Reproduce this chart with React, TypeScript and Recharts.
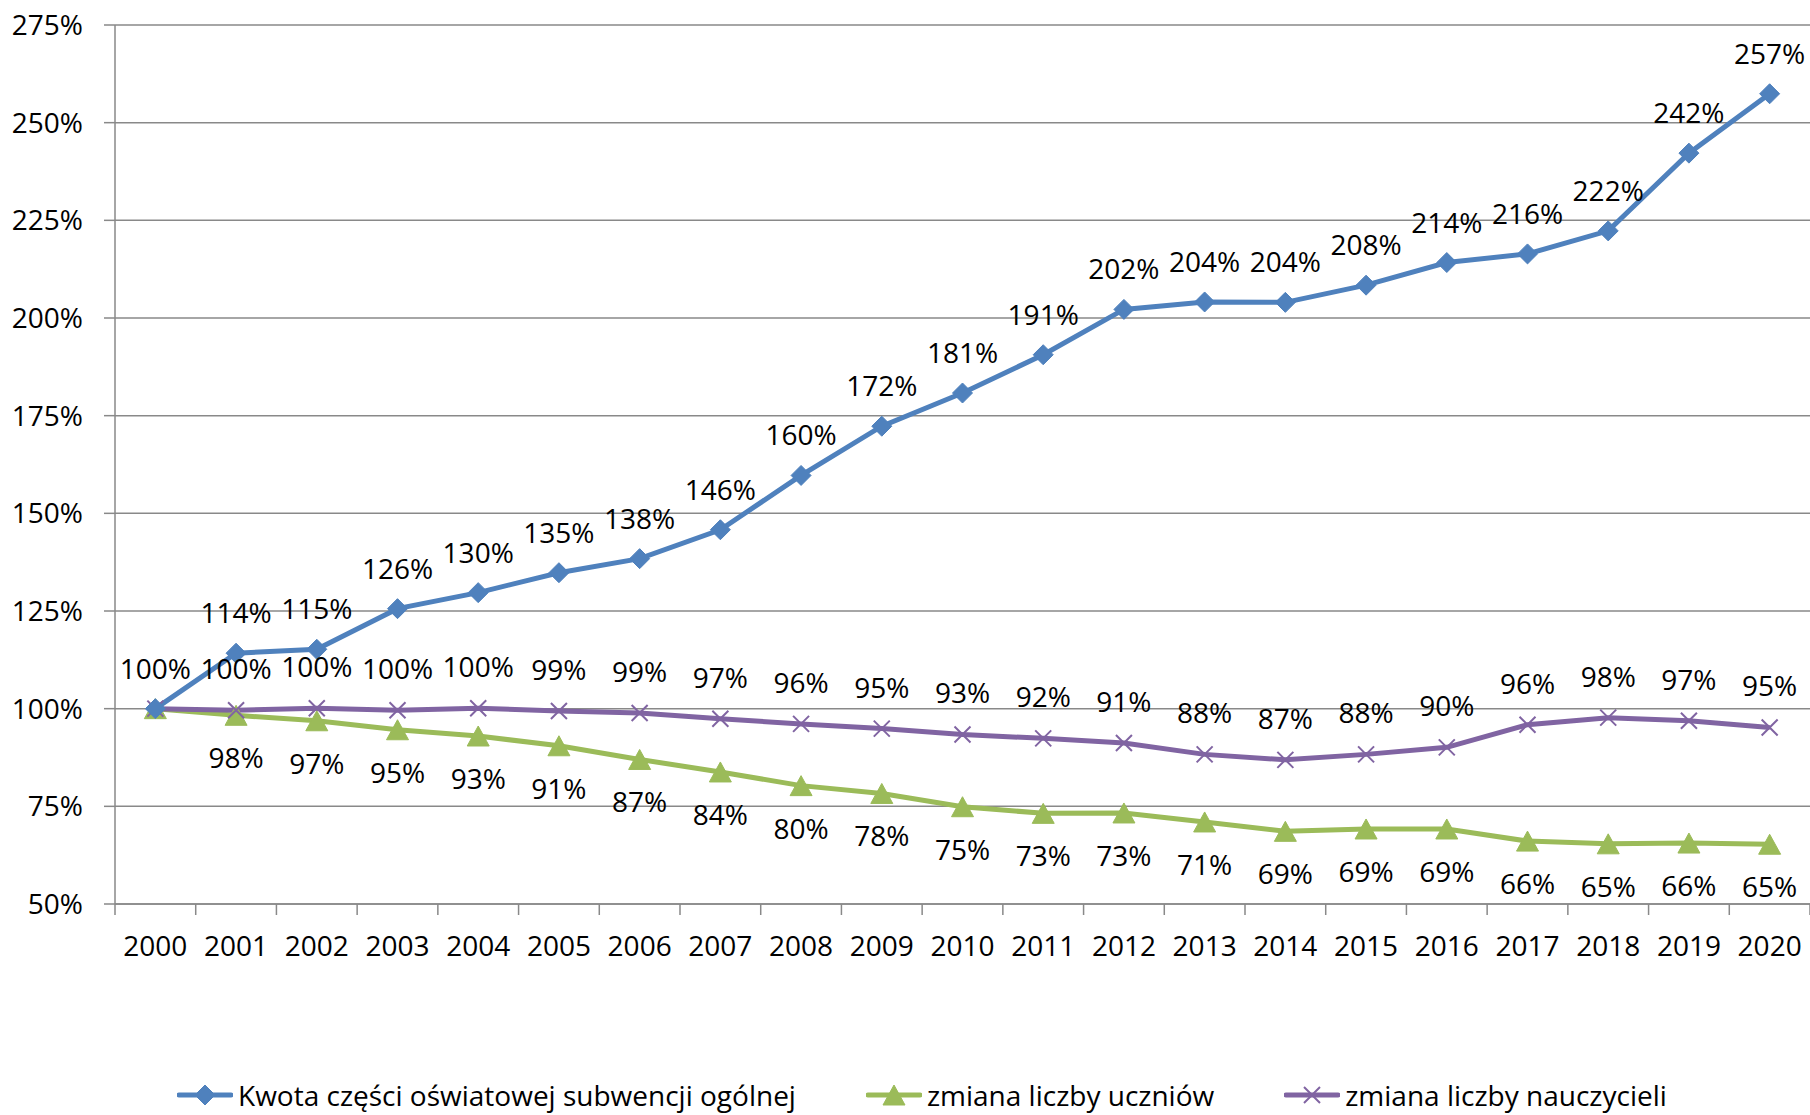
import React from "react";
import {
  LineChart,
  Line,
  XAxis,
  YAxis,
  CartesianGrid,
  Legend,
  LabelList,
} from "recharts";

const years = [
  2000, 2001, 2002, 2003, 2004, 2005, 2006, 2007, 2008, 2009, 2010,
  2011, 2012, 2013, 2014, 2015, 2016, 2017, 2018, 2019, 2020,
];

const kwota = [
  100, 114.2, 115.2, 125.6, 129.7, 134.8, 138.4, 145.8, 159.7, 172.3, 180.8,
  190.6, 202.2, 204.1, 204.0, 208.4, 214.2, 216.4, 222.3, 242.2, 257.4,
];

const uczniowie = [
  100, 98.3, 96.9, 94.6, 93.0, 90.5, 87.0, 83.8, 80.3, 78.3, 74.9,
  73.2, 73.3, 71.0, 68.6, 69.2, 69.2, 66.1, 65.4, 65.6, 65.3,
];

const nauczyciele = [
  100, 99.6, 100.1, 99.6, 100.1, 99.4, 98.9, 97.4, 96.1, 94.9, 93.4,
  92.4, 91.2, 88.3, 86.9, 88.3, 90.1, 95.9, 97.7, 96.9, 95.2,
];

const yTicks = [50, 75, 100, 125, 150, 175, 200, 225, 250, 275];

const seriesNames = {
  kwota: "Kwota części oświatowej subwencji ogólnej",
  uczniowie: "zmiana liczby uczniów",
  nauczyciele: "zmiana liczby nauczycieli",
};

const BLUE = "#4F81BD";
const GREEN = "#9BBB59";
const PURPLE = "#8064A2";
const GRID = "#898989";
const FONT = "'Open Sans', sans-serif";
const FS = 28;

const data = years.map((year, i) => ({
  year,
  kwota: kwota[i],
  uczniowie: uczniowie[i],
  nauczyciele: nauczyciele[i],
}));

const xTicks = [
  ...years.map((y) => y - 0.5),
  years[years.length - 1] + 0.5,
  ...years,
].sort((a, b) => a - b);

const Diamond = ({ cx, cy, size = 10 }: any) => {
  if (cx == null || cy == null) return null;
  return (
    <path
      d={`M${cx},${cy - size} L${cx + size},${cy} L${cx},${cy + size} L${cx - size},${cy} Z`}
      fill={BLUE}
      stroke={BLUE}
    />
  );
};

const Triangle = ({ cx, cy, w = 11, h = 10 }: any) => {
  if (cx == null || cy == null) return null;
  return (
    <path
      d={`M${cx},${cy - h} L${cx + w},${cy + h} L${cx - w},${cy + h} Z`}
      fill={GREEN}
      stroke={GREEN}
    />
  );
};

const Cross = ({ cx, cy, s = 8 }: any) => {
  if (cx == null || cy == null) return null;
  return (
    <path
      d={`M${cx - s},${cy - s} L${cx + s},${cy + s} M${cx - s},${cy + s} L${cx + s},${cy - s}`}
      stroke={PURPLE}
      strokeWidth={2}
      fill="none"
    />
  );
};

const makeLabel = (dy: number, skipFirst: boolean) => (props: any) => {
  const { x, y, value, index } = props;
  if (skipFirst && index === 0) return null;
  return (
    <text
      x={x}
      y={y + dy}
      textAnchor="middle"
      fill="#000"
      fontSize={FS}
      fontFamily={FONT}
    >
      {`${Math.round(value)}%`}
    </text>
  );
};

const XTick = (props: any) => {
  const { x, y, payload } = props;
  const v = payload.value;
  if (Number.isInteger(v)) {
    return (
      <text
        x={x}
        y={y + 52}
        textAnchor="middle"
        fill="#000"
        fontSize={FS}
        fontFamily={FONT}
      >
        {v}
      </text>
    );
  }
  return <line x1={x} x2={x} y1={y} y2={y + 11} stroke={GRID} strokeWidth={1.5} />;
};

const LegendIcon = ({ kind }: { kind: string }) => {
  const color = kind === "kwota" ? BLUE : kind === "uczniowie" ? GREEN : PURPLE;
  return (
    <svg width={56} height={30} style={{ display: "block" }}>
      <line x1={2} x2={54} y1={15} y2={15} stroke={color} strokeWidth={5} strokeLinecap="round" />
      {kind === "kwota" && <Diamond cx={28} cy={15} size={10} />}
      {kind === "uczniowie" && <Triangle cx={28} cy={15} w={11} h={10} />}
      {kind === "nauczyciele" && <Cross cx={28} cy={15} s={8} />}
    </svg>
  );
};

const LegendContent = () => (
  <div
    style={{
      height: 146,
      display: "flex",
      alignItems: "flex-end",
      justifyContent: "flex-start",
      paddingLeft: 177,
      paddingBottom: 0,
      boxSizing: "border-box",
      gap: 70,
    }}
  >
    {(["kwota", "uczniowie", "nauczyciele"] as const).map((k) => (
      <div key={k} style={{ display: "flex", alignItems: "center", height: 30 }}>
        <LegendIcon kind={k} />
        <span
          style={{
            fontFamily: FONT,
            fontSize: FS,
            color: "#000",
            marginLeft: 5,
            lineHeight: "30px",
            whiteSpace: "nowrap",
          }}
        >
          {seriesNames[k]}
        </span>
      </div>
    ))}
  </div>
);

export default function App() {
  return (
    <div style={{ position: "absolute", left: 0, top: 0, width: 1810, height: 1115, background: "#fff" }}>
      <LineChart
        width={1810}
        height={1115}
        data={data}
        margin={{ top: 25, right: 0, left: 0, bottom: 3 }}
      >
        <CartesianGrid vertical={false} stroke={GRID} strokeWidth={1.5} />
        <XAxis
          dataKey="year"
          type="number"
          domain={[1999.5, 2020.5]}
          ticks={xTicks}
          interval={0}
          tickLine={false}
          tickSize={0}
          tickMargin={0}
          tick={<XTick />}
          axisLine={{ stroke: GRID, strokeWidth: 1.5 }}
          height={60}
          allowDataOverflow
        />
        <YAxis
          domain={[50, 275]}
          ticks={yTicks}
          interval={0}
          width={115}
          tickSize={11}
          tickMargin={21}
          tickFormatter={(v: number) => `${v}%`}
          tick={{ fill: "#000", fontSize: FS, fontFamily: FONT }}
          tickLine={{ stroke: GRID, strokeWidth: 1.5 }}
          axisLine={{ stroke: GRID, strokeWidth: 1.5 }}
        />
        <Legend
          verticalAlign="bottom"
          content={<LegendContent />}
          wrapperStyle={{ left: 0, width: 1810, height: 148 }}
        />
        <Line
          dataKey="uczniowie"
          stroke={GREEN}
          strokeWidth={5}
          dot={<Triangle />}
          isAnimationActive={false}
        >
          <LabelList dataKey="uczniowie" content={makeLabel(53, true)} />
        </Line>
        <Line
          dataKey="nauczyciele"
          stroke={PURPLE}
          strokeWidth={5}
          dot={<Cross />}
          isAnimationActive={false}
        >
          <LabelList dataKey="nauczyciele" content={makeLabel(-31, true)} />
        </Line>
        <Line
          dataKey="kwota"
          stroke={BLUE}
          strokeWidth={5}
          dot={<Diamond />}
          isAnimationActive={false}
        >
          <LabelList dataKey="kwota" content={makeLabel(-30, false)} />
        </Line>
      </LineChart>
    </div>
  );
}
